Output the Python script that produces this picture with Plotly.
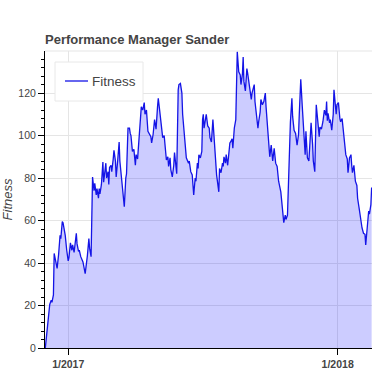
import plotly.graph_objects as go
import pandas as pd

# Days relative to 2017-01-01 and fitness values
day_offsets = [
    -31, -29, -28, -27, -25, -23, -22, -20, -19, -17, -15, -13, -11, -10, -8, -7, -4, -2,
    0, 1, 3, 5, 6, 8, 11, 12, 14, 15, 17, 20, 23, 26, 28, 29, 31, 33, 35, 36, 38, 39,
    41, 42, 43, 45, 47, 48, 50, 51, 52, 54, 55, 56, 58, 59, 61, 62, 64, 65, 67, 69,
    70, 73, 76, 78, 79, 81, 83, 84, 85, 87, 89, 91, 92, 94, 96, 97, 99, 101, 103, 104,
    106, 108, 110, 112, 113, 115, 117, 118, 119, 121, 122, 124, 126, 128, 130, 131, 133, 135, 136, 138,
    139, 141, 143, 144, 146, 147, 149, 150, 152, 154, 155, 158, 160, 163, 164, 166, 168, 170, 172, 173,
    175, 176, 177, 179, 181, 182, 183, 184, 186, 187, 189, 191, 192, 194, 196, 198, 200, 201, 204, 205,
    207, 209, 210, 211, 213, 214, 216, 217, 219, 220, 222, 223, 225, 227, 228, 229, 231, 233, 234, 236,
    237, 238, 240, 241, 242, 243, 245, 246, 248, 249, 252, 253, 255, 257, 258, 260, 261, 263, 265, 267,
    268, 270, 272, 273, 275, 277, 279, 280, 281, 283, 285, 288, 290, 292, 294, 295, 297, 299, 301, 303,
    304, 306, 308, 310, 312, 313, 315, 317, 319, 321, 322, 324, 326, 328, 329, 331, 332, 334, 336, 338,
    340, 341, 343, 345, 347, 349, 350, 351, 352, 354, 355, 357, 359, 360, 361, 363, 364, 366, 368, 369,
    371, 373, 374, 376, 378, 379, 381, 383, 384, 385, 387, 389, 391, 392, 394, 396, 398, 400, 402, 403,
    405, 407, 408, 410, 411,
]
fitness = [
    0, 6.5, 10, 15.5, 20.5, 22.5, 21.5, 25, 44.5, 41, 37.5, 44, 53, 51.5, 59.5, 59, 53, 46,
    41, 42.5, 49.5, 46, 48.5, 45, 54, 49, 45.5, 46, 43, 40.5, 35, 43.5, 51.5, 47, 43, 80.5, 74, 77.5, 72, 75,
    70.5, 75, 72.5, 77, 87.5, 78, 84.5, 87, 80, 83, 77, 85, 86, 83, 89, 93, 88, 80.5, 88, 97,
    88, 76, 66.5, 80, 82, 103.5, 103.5, 101, 100, 92.5, 93.5, 86, 91, 89, 99.5, 102, 113.5, 112, 115.5, 110,
    112, 102, 100.5, 99.5, 96.5, 100.5, 107.5, 104, 103, 113.5, 117.5, 111.5, 103.5, 99, 100, 95.5, 88.5, 90, 85.5, 89.5,
    84, 80.5, 86, 92, 83, 82, 121.5, 124, 124.5, 120, 110, 99.5, 89.5, 87, 88, 83, 81.5, 72, 80, 78.5,
    87, 84.5, 91, 89.5, 92.5, 107.5, 110, 103.5, 109, 110, 104.5, 103.5, 99, 97, 107.5, 96, 87, 81.5, 73.5, 84.5,
    82.5, 87, 85.5, 90, 87, 91, 86, 91, 96.5, 97, 98.5, 94, 103.5, 107.5, 131, 139.5, 130, 128.5, 124, 129,
    137, 125.5, 121, 127, 131.5, 129.5, 125, 121.5, 117, 120, 124, 116, 110, 103.5, 106.5, 111, 117, 114.5, 116, 120,
    113.5, 105, 97, 90, 95.5, 88, 94, 90.5, 87, 85.5, 78.5, 73.5, 66, 59, 62.5, 60.5, 62.5, 86, 106.5, 117.5,
    109, 102.5, 101, 95.5, 100.5, 110, 126.5, 114, 103.5, 91, 102, 89.5, 88, 105, 106, 96, 88, 83, 114.5, 107,
    99.5, 104, 103, 106.5, 112, 109.5, 116, 107, 110.5, 106, 107.5, 102.5, 110, 121.5, 117.5, 110, 114.5, 115.5, 108, 106.5,
    108, 100.5, 96, 91, 89, 82.5, 89.5, 91, 86, 82.5, 86, 78.5, 76.5, 70.5, 66, 61, 56.5, 54, 53.5, 48.5,
    56.5, 64.5, 63, 67.5, 75.5,
]
y_tick_values = [0, 20, 40, 60, 80, 100, 120]
x_tick_values = ["2017-01-01", "2018-01-01"]

dates = pd.Timestamp("2017-01-01") + pd.to_timedelta(day_offsets, unit="D")

FONT = "Liberation Sans, Arial, Helvetica, sans-serif"
LINE_COLOR = "#1414e6"

fig = go.Figure()
fig.add_trace(go.Scatter(
    x=dates, y=fitness, mode="lines", name="Fitness",
    line=dict(color=LINE_COLOR, width=1.3),
    fill="tozeroy", fillcolor="rgba(0,0,255,0.2)",
    showlegend=False,
))

# plot area in pixels: x 45..372, y 51..348
def px_x(p):
    return (p - 45) / 327.0

def px_y(p):
    return (348 - p) / 297.0

shapes = [
    dict(type="line", xref="paper", yref="paper", x0=0, x1=1, y0=1, y1=1,
         line=dict(color="#e5e5e5", width=1)),
    dict(type="rect", xref="paper", yref="paper",
         x0=px_x(55), x1=px_x(143), y0=px_y(101), y1=px_y(62),
         fillcolor="white", line=dict(color="#e8e8e8", width=1), layer="above"),
    dict(type="line", xref="paper", yref="paper",
         x0=px_x(65), x1=px_x(88), y0=px_y(81), y1=px_y(81),
         line=dict(color=LINE_COLOR, width=1.3), layer="above"),
]

fig.update_layout(
    width=372, height=372,
    margin=dict(l=45, r=0, t=51, b=24),
    paper_bgcolor="white", plot_bgcolor="white",
    font=dict(family=FONT, color="#444444"),
    title=dict(text="<b>Performance Manager Sander</b>", xref="paper", x=0, xanchor="left",
               yref="container", y=1 - 39 / 372, yanchor="middle",
               font=dict(size=13, color="#444444", family=FONT)),
    shapes=shapes,
    annotations=[dict(text="Fitness", xref="paper", yref="paper", x=px_x(90), y=px_y(81),
                      xanchor="left", yanchor="middle", showarrow=False,
                      font=dict(size=13.5, color="#444444", family=FONT))],
    xaxis=dict(
        type="date", range=["2016-11-30 14:00", "2018-02-16 12:00"],
        tickvals=x_tick_values, tickformat="%-m/%Y",
        ticks="outside", ticklen=6, tickcolor="black", tickwidth=1,
        showline=True, linecolor="black", linewidth=1,
        showgrid=True, gridcolor="#e5e5e5", zeroline=False,
        tickfont=dict(size=10.5, color="#444444", family=FONT, weight="bold"),
    ),
    yaxis=dict(
        range=[0, 139.8], tickvals=y_tick_values,
        ticks="outside", ticklen=6, tickcolor="black", tickwidth=1,
        minor=dict(ticks="outside", ticklen=3, dtick=4, tick0=0, tickcolor="black", showgrid=False),
        showline=True, linecolor="black", linewidth=1,
        showgrid=True, gridcolor="#e5e5e5", zeroline=False,
        tickfont=dict(size=10.5, color="#444444", family=FONT),
        title=dict(text="Fitness", standoff=4,
                   font=dict(size=13, color="#444444", family=FONT, style="italic")),
    ),
)

fig.write_html("out.html", config={"displayModeBar": False},
               post_script="document.body.style.margin='0';")
